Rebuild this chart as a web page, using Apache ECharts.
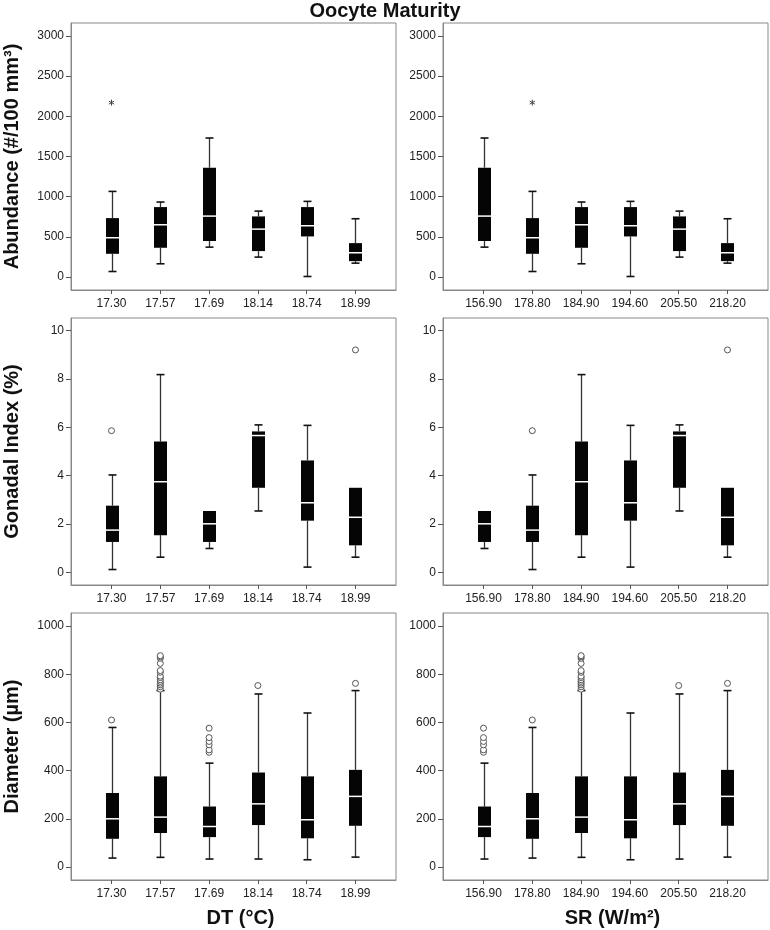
<!DOCTYPE html>
<html><head><meta charset="utf-8">
<script src="https://cdn.jsdelivr.net/npm/echarts@6/dist/echarts.min.js"></script>
<style>html,body{margin:0;padding:0;background:#fff}#c{width:770px;height:930px}</style>
</head><body><div id="c"></div>
<script>
const dtCategories = ['17.30','17.57','17.69','18.14','18.74','18.99'];
const srCategories = ['156.90','178.80','184.90','194.60','205.50','218.20'];
const abundanceTicks = [0,500,1000,1500,2000,2500,3000];
const giTicks = [0,2,4,6,8,10];
const diameterTicks = [0,200,400,600,800,1000];
const categoryTicks = [0,1,2,3,4,5];

// each box: [lower whisker, Q1, median, Q3, upper whisker]
const abundanceDT = [[70,290,490,734,1066],[166,365,651,871,934],[373,448,759,1361,1730],[249,324,597,755,821],[8,506,639,871,942],[174,199,303,423,726]];
const abundanceSR = [[373,448,759,1361,1730],[70,290,490,734,1066],[166,365,651,871,934],[8,506,639,871,942],[249,324,597,755,821],[174,199,303,423,726]];
// extremes (*): [category index, value]
const abundanceExtremesDT = [[0,2170]];
const abundanceExtremesSR = [[1,2170]];

const giDT = [[0.12,1.26,1.75,2.76,4.03],[0.63,1.54,3.75,5.41,8.18],[0.99,1.26,2.01,2.54,2.54],[2.54,3.50,5.66,5.83,6.10],[0.22,2.14,2.88,4.63,6.08],[0.63,1.12,2.28,3.50,3.50]];
const giSR = [[0.99,1.26,2.01,2.54,2.54],[0.12,1.26,1.75,2.76,4.03],[0.63,1.54,3.75,5.41,8.18],[0.22,2.14,2.88,4.63,6.08],[2.54,3.50,5.66,5.83,6.10],[0.63,1.12,2.28,3.50,3.50]];
// outliers (o): [category index, value]
const giOutliersDT = [[0,5.86],[5,9.2]];
const giOutliersSR = [[1,5.86],[5,9.2]];

const diameterDT = [[37,117,200,307,579],[40,141,207,376,732],[33,124,168,251,431],[33,174,262,392,718],[30,119,196,376,639],[41,171,293,403,732]];
const diameterSR = [[33,124,168,251,431],[37,117,200,307,579],[40,141,207,376,732],[30,119,196,376,639],[33,174,262,392,718],[41,171,293,403,732]];
const diameterOutliersDT = [[0,610],[1,738],[1,748],[1,756],[1,763],[1,770],[1,777],[1,786],[1,792],[1,808],[1,815],[1,845],[1,866],[1,872],[1,877],[2,476],[2,486],[2,507],[2,521],[2,537],[2,576],[3,753],[5,762]];
const diameterOutliersSR = [[1,610],[2,738],[2,748],[2,756],[2,763],[2,770],[2,777],[2,786],[2,792],[2,808],[2,815],[2,845],[2,866],[2,872],[2,877],[0,476],[0,486],[0,507],[0,521],[0,537],[0,576],[4,753],[5,762]];

const FONT = "'Liberation Sans', Arial, Helvetica, sans-serif";

const panels = [
  {cats: dtCategories, box: abundanceDT, out: [], ext: abundanceExtremesDT, ticks: abundanceTicks, min: -160, max: 3160, yName: 'Abundance (#/100 mm\u00B3)', xName: ''},
  {cats: srCategories, box: abundanceSR, out: [], ext: abundanceExtremesSR, ticks: abundanceTicks, min: -160, max: 3160, yName: '', xName: ''},
  {cats: dtCategories, box: giDT, out: giOutliersDT, ext: [], ticks: giTicks, min: -0.52, max: 10.52, yName: 'Gonadal Index (%)', xName: ''},
  {cats: srCategories, box: giSR, out: giOutliersSR, ext: [], ticks: giTicks, min: -0.52, max: 10.52, yName: '', xName: ''},
  {cats: dtCategories, box: diameterDT, out: diameterOutliersDT, ext: [], ticks: diameterTicks, min: -54, max: 1054, yName: 'Diameter (\u00B5m)', xName: 'DT (\u00B0C)'},
  {cats: srCategories, box: diameterSR, out: diameterOutliersSR, ext: [], ticks: diameterTicks, min: -54, max: 1054, yName: '', xName: 'SR (W/m\u00B2)'}
];

const tops = [23, 318, 613];
const grids = [], xAxes = [], yAxes = [], series = [];

function boxRender(params, api) {
  const x = api.value(0);
  const lo = api.coord([x, api.value(1)]);
  const q1 = api.coord([x, api.value(2)]);
  const md = api.coord([x, api.value(3)]);
  const q3 = api.coord([x, api.value(4)]);
  const hi = api.coord([x, api.value(5)]);
  const cx = Math.round(md[0]) + 0.5;
  const bw = 13, cw = 8;
  const ch = [];
  if (hi[1] < q3[1] - 0.5) {
    ch.push({type: 'line', shape: {x1: cx, y1: hi[1], x2: cx, y2: q3[1]}, style: {stroke: '#333', lineWidth: 1.3}});
    ch.push({type: 'line', shape: {x1: cx - cw / 2, y1: hi[1], x2: cx + cw / 2, y2: hi[1]}, style: {stroke: '#111', lineWidth: 1.6}});
  }
  if (lo[1] > q1[1] + 0.5) {
    ch.push({type: 'line', shape: {x1: cx, y1: q1[1], x2: cx, y2: lo[1]}, style: {stroke: '#333', lineWidth: 1.3}});
    ch.push({type: 'line', shape: {x1: cx - cw / 2, y1: lo[1], x2: cx + cw / 2, y2: lo[1]}, style: {stroke: '#111', lineWidth: 1.6}});
  }
  ch.push({type: 'rect', shape: {x: cx - bw / 2, y: q3[1], width: bw, height: q1[1] - q3[1]}, style: {fill: '#050505'}});
  ch.push({type: 'line', shape: {x1: cx - bw / 2, y1: md[1], x2: cx + bw / 2, y2: md[1]}, style: {stroke: '#fff', lineWidth: 1.5}});
  return {type: 'group', children: ch};
}

function starRender(params, api) {
  const p = api.coord([api.value(0), api.value(1)]);
  const r = 3;
  const ch = [];
  for (let k = 0; k < 3; k++) {
    const a = Math.PI / 2 + k * Math.PI / 3;
    ch.push({type: 'line', shape: {x1: p[0] - r * Math.cos(a), y1: p[1] - r * Math.sin(a), x2: p[0] + r * Math.cos(a), y2: p[1] + r * Math.sin(a)}, style: {stroke: '#444', lineWidth: 1}});
  }
  return {type: 'group', children: ch};
}

panels.forEach((p, i) => {
  const col = i % 2, row = Math.floor(i / 2);
  grids.push({left: col === 0 ? 71 : 443, width: 325, top: tops[row], height: 267, show: true, borderColor: '#888', borderWidth: 1, backgroundColor: '#fff', containLabel: false});
  xAxes.push({
    type: 'value', gridIndex: i, min: -0.83, max: 5.83,
    axisLine: {show: true, onZero: false, lineStyle: {color: '#888'}},
    axisTick: {show: true, customValues: categoryTicks, length: 4, lineStyle: {color: '#555'}},
    axisLabel: {customValues: categoryTicks, formatter: v => p.cats[Math.round(v)], color: '#222', fontSize: 12, fontFamily: FONT, margin: 8},
    splitLine: {show: false},
    name: p.xName, nameLocation: 'middle', nameGap: 28,
    nameTextStyle: {fontSize: 20, fontWeight: 'bold', fontFamily: FONT, color: '#111', padding: [0, 0, 0, 14]}
  });
  yAxes.push({
    type: 'value', gridIndex: i, min: p.min, max: p.max,
    axisLine: {show: true, onZero: false, lineStyle: {color: '#888'}},
    axisTick: {show: true, customValues: p.ticks, length: 5, lineStyle: {color: '#555'}},
    axisLabel: {customValues: p.ticks, formatter: v => String(v), color: '#222', fontSize: 12, fontFamily: FONT, margin: 7},
    splitLine: {show: false},
    name: p.yName, nameLocation: 'middle', nameGap: 49,
    nameTextStyle: {fontSize: 20, fontWeight: 'bold', fontFamily: FONT, color: '#111'}
  });
  series.push({
    type: 'custom', xAxisIndex: i, yAxisIndex: i, renderItem: boxRender,
    encode: {x: 0, y: [1, 2, 3, 4, 5]},
    data: p.box.map((d, k) => [k].concat(d)), silent: true
  });
  if (p.out.length) series.push({
    type: 'scatter', xAxisIndex: i, yAxisIndex: i, symbol: 'circle', symbolSize: 6,
    itemStyle: {color: '#fff', borderColor: '#555', borderWidth: 1, opacity: 1},
    data: p.out, silent: true, z: 3
  });
  if (p.ext.length) series.push({
    type: 'custom', xAxisIndex: i, yAxisIndex: i, renderItem: starRender,
    encode: {x: 0, y: 1}, data: p.ext, silent: true, z: 3
  });
});

const chart = echarts.init(document.getElementById('c'), null, {renderer: 'canvas'});
chart.setOption({
  animation: false,
  backgroundColor: '#fff',
  title: {text: 'Oocyte Maturity', left: 'center', top: 1, padding: 0,
    textStyle: {fontSize: 20, fontWeight: 'bold', fontFamily: FONT, color: '#111'}},
  grid: grids, xAxis: xAxes, yAxis: yAxes, series: series
});
</script></body></html>
